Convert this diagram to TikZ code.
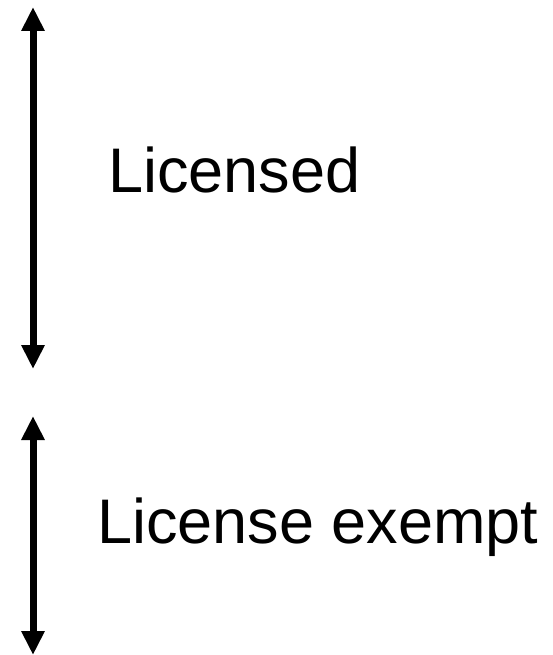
\documentclass[tikz,border=0pt]{standalone}
\usepackage{fontspec}
\setmainfont{Liberation Sans}
\usetikzlibrary{arrows.meta}
\begin{document}
\begin{tikzpicture}[x=1pt,y=-1pt,
  dbl/.style={line width=7pt,{Triangle[width=22pt,length=24pt]}-{Triangle[width=22pt,length=24pt]}},
  lbl/.style={anchor=base west,inner sep=0pt,font=\fontsize{63}{75}\selectfont}]
\useasboundingbox (0,0) rectangle (552,655);
\coordinate (a1t) at (33,7);
\coordinate (a1b) at (33,369);
\coordinate (a2t) at (33,416);
\coordinate (a2b) at (33,655);
\draw[dbl] (a1t) -- (a1b);
\draw[dbl] (a2t) -- (a2b);
\node[lbl] (lic) at (108,193) {Licensed};
\node[lbl] (exm) at (97,543) {License exempt};
\end{tikzpicture}
\end{document}
